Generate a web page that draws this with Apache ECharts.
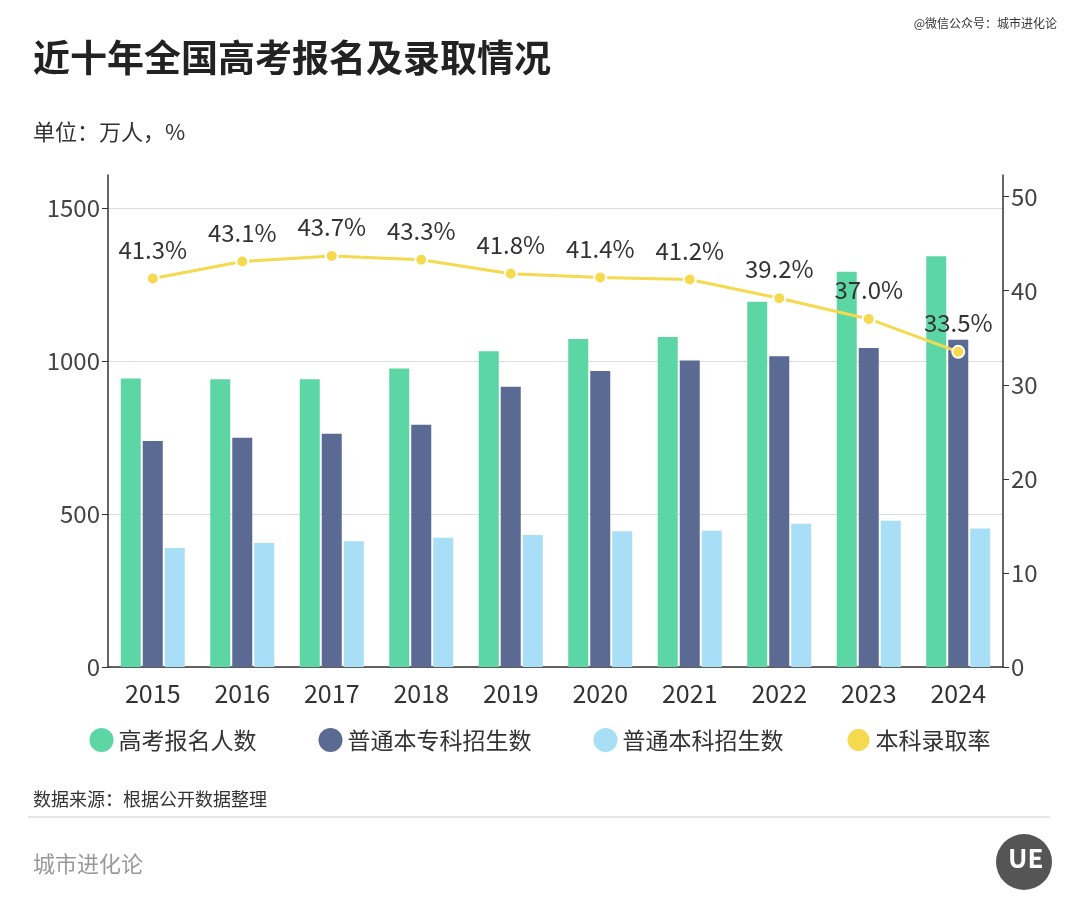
<!DOCTYPE html>
<html><head><meta charset="utf-8">
<script src="https://cdn.jsdelivr.net/npm/echarts@6/dist/echarts.min.js"></script>
<style>html,body{margin:0;background:#fff}#c{width:1080px;height:918px}</style></head>
<body><div id="c"></div>
<script>
const years = ['2015','2016','2017','2018','2019','2020','2021','2022','2023','2024'];
const applicants = [942, 940, 940, 975, 1031, 1071, 1078, 1193, 1291, 1342];
const enrollAll = [738, 749, 762, 791, 915, 967, 1001, 1015, 1042, 1069];
const enrollBach = [389, 405, 411, 422, 431, 443, 445, 468, 478, 452];
const rate = [41.3, 43.1, 43.7, 43.3, 41.8, 41.4, 41.2, 39.2, 37.0, 33.5];
const F = '"Noto Sans CJK SC","Noto Sans",sans-serif';
const chart = echarts.init(document.getElementById('c'));
chart.setOption({
  backgroundColor:'#fff',
  textStyle:{fontFamily:F},
  title:[
    {text:'近十年全国高考报名及录取情况',left:28,top:34,textStyle:{fontSize:37,fontWeight:'bold',color:'#222',fontFamily:F}},
    {text:'单位：万人，%',left:28,top:116,textStyle:{fontSize:22,fontWeight:'normal',color:'#333',fontFamily:F}},
    {text:'数据来源：根据公开数据整理',left:28,top:785,textStyle:{fontSize:18,fontWeight:'normal',color:'#333',fontFamily:F}},
    {text:'城市进化论',left:28,top:848,textStyle:{fontSize:22,fontWeight:'normal',color:'#999',fontFamily:F}},
    {text:'@微信公众号：城市进化论',right:18,top:12,textStyle:{fontSize:12,fontWeight:'normal',color:'#333',fontFamily:F}}
  ],
  graphic:[
    {type:'line',shape:{x1:28,y1:817,x2:1050,y2:817},style:{stroke:'#ccc',lineWidth:1}},
    {type:'circle',shape:{cx:1024,cy:862,r:28},style:{fill:'#555'}},
    {type:'text',left:1008,top:845,style:{text:'UE',fill:'#fff',fontSize:26,fontWeight:'bold',fontFamily:F}}
  ],
  legend:{bottom:160,left:'center',itemGap:62,icon:'circle',itemWidth:24,itemHeight:24,
    textStyle:{fontSize:23,color:'#333',fontFamily:F},
    data:['高考报名人数','普通本专科招生数','普通本科招生数','本科录取率']},
  grid:{left:108,right:77,top:175,bottom:251},
  xAxis:{type:'category',data:years,
    axisLine:{lineStyle:{color:'#333',width:1.5}},axisTick:{show:false},
    axisLabel:{fontSize:25,color:'#333',margin:14}},
  yAxis:[
    {type:'value',min:0,max:1607,interval:500,
      axisLine:{show:true,lineStyle:{color:'#333',width:1.5}},axisTick:{show:true,length:6,lineStyle:{color:'#333'}},
      axisLabel:{fontSize:24,color:'#444',showMaxLabel:false,formatter:v=>String(v)},
      splitLine:{showMaxLine:false,lineStyle:{color:'#ddd'}}},
    {type:'value',min:0,max:52.3,interval:10,
      axisLine:{show:true,lineStyle:{color:'#333',width:1.5}},axisTick:{show:true,length:6,lineStyle:{color:'#333'}},
      axisLabel:{fontSize:24,color:'#444',showMaxLabel:false},splitLine:{show:false}}
  ],
  series:[
    {name:'高考报名人数',type:'bar',data:applicants,barWidth:20,barGap:'10%',itemStyle:{color:'#5dd6a6'}},
    {name:'普通本专科招生数',type:'bar',data:enrollAll,barWidth:20,barGap:'10%',itemStyle:{color:'#5a6a92'}},
    {name:'普通本科招生数',type:'bar',data:enrollBach,barWidth:20,barGap:'10%',itemStyle:{color:'#a9def7'}},
    {name:'本科录取率',type:'line',yAxisIndex:1,data:rate,symbol:'circle',symbolSize:12,
      lineStyle:{color:'#f5d94e',width:3},itemStyle:{color:'#f5d94e',borderColor:'#fff',borderWidth:2},
      label:{show:true,position:'top',distance:10,fontSize:24,color:'#333',formatter:p=>p.value.toFixed(1)+'%'}}
  ]
});
</script></body></html>
